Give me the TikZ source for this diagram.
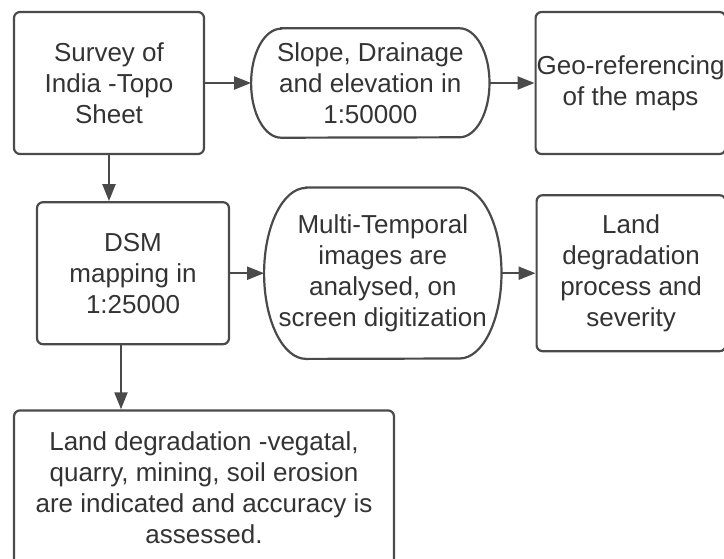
\documentclass[tikz,border=0pt]{standalone}
\usepackage{fontspec}
\setmainfont{Liberation Sans}
\usepackage{xcolor}
\usepackage{tikz}
\usetikzlibrary{positioning,arrows.meta}

\definecolor{linegray}{HTML}{4A4A4A}
\definecolor{textgray}{HTML}{333333}

% stadium outline round a node: name, end radius, half height
\newcommand{\stadiumline}[3]{\draw[line] ([xshift=#2]#1.north west) -- ([xshift=-#2]#1.north east) arc[start angle=90, end angle=-90, x radius=#2, y radius=#3] -- ([xshift=#2]#1.south west) arc[start angle=270, end angle=90, x radius=#2, y radius=#3] -- cycle;}

\begin{document}
\begin{tikzpicture}[font=\fontsize{26}{31}\selectfont, text=textgray,
  box/.style={draw=linegray, line width=2.2pt, rounded corners=6pt, align=center, inner sep=0pt, minimum width=190pt, minimum height=142pt},
  stadium/.style={align=center, inner sep=0pt},
  line/.style={draw=linegray, line width=2.2pt},
  arrow/.style={line, -{Triangle[length=17pt, width=13pt]}}]
\useasboundingbox (-109pt,83pt) rectangle (615pt,-475pt);
\node[box] (survey) {Survey of\\ India -Topo\\ Sheet};
\node[stadium, minimum width=238pt, minimum height=109pt, right=46pt of survey] (slope) {Slope, Drainage\\ and elevation in\\ 1:50000};
\node[box, right=45pt of slope] (georef) {Geo-referencing\\ of the maps};
\node[box, minimum width=192pt, below=46pt of survey, xshift=24pt] (dsm) {DSM\\ mapping in\\ 1:25000};
\node[stadium, minimum width=237pt, minimum height=171pt, right=34pt of dsm] (temporal) {Multi-Temporal\\ images are\\ analysed, on\\ screen digitization};
\node[box, minimum width=189pt, minimum height=156pt, right=34pt of temporal] (process) {Land\\ degradation\\ process and\\ severity};
\node[box, minimum width=380pt, minimum height=154pt, below=64pt of dsm, xshift=71pt] (result) {Land degradation -vegatal,\\ quarry, mining, soil erosion\\ are indicated and accuracy is\\ assessed.};
\stadiumline{slope}{30pt}{54.5pt}
\stadiumline{temporal}{42pt}{85.5pt}
\coordinate[xshift=-12pt] (dsmfoot) at (dsm.south);
\draw[arrow] (survey.east) -- (slope.west);
\draw[arrow] (slope.east) -- (georef.west);
\draw[arrow] (survey.south) -- (survey.south |- dsm.north);
\draw[arrow] (dsm.east) -- (temporal.west);
\draw[arrow] (temporal.east) -- (process.west);
\draw[arrow] (dsmfoot) -- (dsmfoot |- result.north);
\end{tikzpicture}
\end{document}
